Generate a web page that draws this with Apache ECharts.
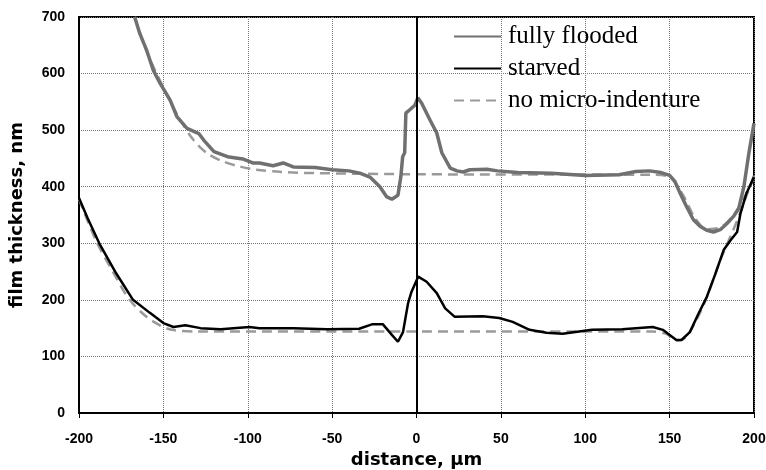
<!DOCTYPE html>
<html>
<head>
<meta charset="utf-8">
<script src="https://cdn.jsdelivr.net/npm/echarts@6/dist/echarts.min.js"></script>
<style>html,body{margin:0;padding:0;background:#fff;}#c{width:766px;height:470px;}</style>
</head>
<body>
<div id="c"></div>
<script>
const xTicks = [-200, -150, -100, -50, 0, 50, 100, 150, 200];
const yTicks = [0, 100, 200, 300, 400, 500, 600, 700];
const seriesNames = ['fully flooded', 'starved', 'no micro-indenture'];

const floodedX = [-167,-164,-160,-156,-152,-146,-142,-136,-129,-126,-120,-112,-103,-97,-93,-85,-79,-73,-60,-50,-40,-33.6,-27.6,-21.7,-17.6,-14.6,-11,-9.3,-8.2,-7,-6.3,-4,-1,0.8,3,8,12,15,20,24,27.6,31.6,41.7,48,60,80,100,120,130,138,145,150,153,156,160,164,168,172,176,180,184,188,191,194,197,200];
const floodedY = [700,671,642,606,583,553,524,503,494,482,462,453,449,442,442,437,442,435,434,430,428,424,417,400,382,378,385,417,453,460,530,536,544,557,548,518,495,460,433,428,426,430,431,428,425,424,420,421,427,428,425,420,410,390,365,342,330,323,320,324,335,348,362,400,460,512];

const starvedX = [-200,-195,-188,-178,-168,-158,-150,-144,-137,-128,-116,-99,-93,-73,-53,-34,-26,-20,-14.6,-11,-8,-5,-3,1,6,12,17,22.7,39.3,49,57,67,77,86.6,104,122,140,146,150,154,157,162,167,172,177,182,186,190,192,195.6,200];
const starvedY = [380,345,300,247,200,177,159,152,155,150,148,152,150,150,148,149,157,157,138,126,143,194,214,241,232,212,185,170,171,168,161,147,142,140,147,148,152,147,138,129,129,143,175,205,245,288,305,320,353,389,417];

const refFloodX = [-167,-160,-150,-140,-132,-124,-115,-105,-95,-80,-60,0,140,150,158,165,172,180,188,194,200];
const refFloodY = [700,640,575,518,482,459,445,436,430,426,424,422,421,417,385,345,325,328,350,380,415];
const refStarvX = [-200,-190,-180,-170,-160,-152,-145,-130,0,140,148,155,160,170,180,190,200];
const refStarvY = [378,305,250,200,170,155,147,144,144,144,140,128,135,190,270,340,420];

function pairs(xs, ys){ return xs.map((x,i)=>[x, ys[i]]); }

const chart = echarts.init(document.getElementById('c'));
const tickFont = {fontFamily:'Liberation Sans', fontWeight:'bold', fontSize:14, color:'#000'};
const nameFont = {fontFamily:'DejaVu Sans', fontWeight:'bold', fontSize:18, color:'#000'};
chart.setOption({
  animation:false,
  backgroundColor:'#fff',
  grid:{left:79, right:12, top:17, bottom:57, outerBoundsMode:'none', containLabel:false,
        show:true, borderColor:'#000', borderWidth:2, backgroundColor:'transparent'},
  legend:{
    orient:'vertical', left:448, top:19, itemWidth:47, itemHeight:14, itemGap:7,
    data:seriesNames,
    itemStyle:{opacity:0},
    textStyle:{fontFamily:'Liberation Serif', fontSize:25, lineHeight:25, color:'#000', padding:[0,0,0,2]}
  },
  xAxis:{
    type:'value', min:xTicks[0], max:xTicks[xTicks.length-1], interval:50,
    axisLine:{onZero:false, lineStyle:{color:'#000', width:2}},
    axisTick:{show:true, length:5, lineStyle:{color:'#000'}},
    axisLabel:Object.assign({margin:19}, tickFont),
    splitLine:{show:true, lineStyle:{type:'dotted', color:'#777', width:1}},
    name:'distance, \u00b5m', nameLocation:'middle', nameGap:38,
    nameTextStyle:nameFont
  },
  yAxis:{
    type:'value', min:yTicks[0], max:yTicks[yTicks.length-1], interval:100,
    axisLine:{onZero:false, show:true, lineStyle:{color:'#000', width:2}},
    axisTick:{show:false},
    axisLabel:Object.assign({margin:14}, tickFont),
    splitLine:{show:true, lineStyle:{type:'dotted', color:'#777', width:1}},
    name:'film thickness, nm', nameLocation:'middle', nameGap:53,
    nameTextStyle:nameFont
  },
  series:[
    {name:seriesNames[2], type:'line', data:pairs(refFloodX, refFloodY), symbol:'none', smooth:0.3,
     lineStyle:{color:'#9a9a9a', width:2.5, type:[10,6]}, itemStyle:{color:'#9a9a9a'}, z:2},
    {name:seriesNames[2], type:'line', data:pairs(refStarvX, refStarvY), symbol:'none', smooth:0.3,
     lineStyle:{color:'#9a9a9a', width:2.5, type:[10,6]}, itemStyle:{color:'#9a9a9a'}, z:2},
    {name:seriesNames[0], type:'line', data:pairs(floodedX, floodedY), symbol:'none',
     lineStyle:{color:'#707070', width:3.5}, itemStyle:{color:'#707070'}, z:3,
     markLine:{silent:true, symbol:'none', label:{show:false}, lineStyle:{color:'#000', width:2, type:'solid'}, data:[{xAxis:0}]}},
    {name:seriesNames[1], type:'line', data:pairs(starvedX, starvedY), symbol:'none',
     lineStyle:{color:'#000', width:2.5}, itemStyle:{color:'#000'}, z:4}
  ]
});
</script>
</body>
</html>
